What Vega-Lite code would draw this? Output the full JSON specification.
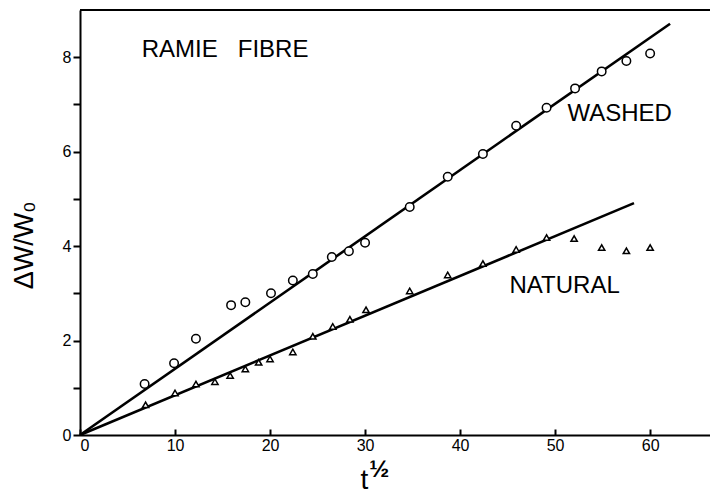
{
  "$schema": "https://vega.github.io/schema/vega-lite/v6.json",
  "width": 630,
  "height": 425,
  "autosize": "none",
  "padding": {"left": 80, "top": 10, "right": 0, "bottom": 58},
  "background": "white",
  "config": {
    "view": {"stroke": null},
    "font": "Liberation Sans",
    "axis": {"grid": false, "domainColor": "black", "domainWidth": 2, "tickColor": "black", "tickWidth": 2, "labelColor": "black", "titleColor": "black", "labelFont": "Liberation Sans", "titleFont": "Liberation Sans"}
  },
  "datasets": {
    "obs": [
      {"series": "washed", "t": 6.8, "dw": 1.08},
      {"series": "washed", "t": 9.9, "dw": 1.52},
      {"series": "washed", "t": 12.2, "dw": 2.04},
      {"series": "washed", "t": 15.9, "dw": 2.75},
      {"series": "washed", "t": 17.4, "dw": 2.81},
      {"series": "washed", "t": 20.1, "dw": 3.0},
      {"series": "washed", "t": 22.4, "dw": 3.27},
      {"series": "washed", "t": 24.5, "dw": 3.41},
      {"series": "washed", "t": 26.5, "dw": 3.77},
      {"series": "washed", "t": 28.3, "dw": 3.89},
      {"series": "washed", "t": 30.0, "dw": 4.07},
      {"series": "washed", "t": 34.7, "dw": 4.83},
      {"series": "washed", "t": 38.7, "dw": 5.47},
      {"series": "washed", "t": 42.4, "dw": 5.95},
      {"series": "washed", "t": 45.9, "dw": 6.55},
      {"series": "washed", "t": 49.1, "dw": 6.93},
      {"series": "washed", "t": 52.1, "dw": 7.34},
      {"series": "washed", "t": 54.9, "dw": 7.7},
      {"series": "washed", "t": 57.5, "dw": 7.92},
      {"series": "washed", "t": 60.0, "dw": 8.08},
      {"series": "natural", "t": 6.9, "dw": 0.64},
      {"series": "natural", "t": 10.0, "dw": 0.89},
      {"series": "natural", "t": 12.2, "dw": 1.08},
      {"series": "natural", "t": 14.2, "dw": 1.13},
      {"series": "natural", "t": 15.8, "dw": 1.26},
      {"series": "natural", "t": 17.4, "dw": 1.4},
      {"series": "natural", "t": 18.8, "dw": 1.54},
      {"series": "natural", "t": 20.0, "dw": 1.61},
      {"series": "natural", "t": 22.4, "dw": 1.76},
      {"series": "natural", "t": 24.5, "dw": 2.09},
      {"series": "natural", "t": 26.6, "dw": 2.3},
      {"series": "natural", "t": 28.4, "dw": 2.45},
      {"series": "natural", "t": 30.1, "dw": 2.65},
      {"series": "natural", "t": 34.7, "dw": 3.05},
      {"series": "natural", "t": 38.7, "dw": 3.39},
      {"series": "natural", "t": 42.4, "dw": 3.63},
      {"series": "natural", "t": 45.9, "dw": 3.93},
      {"series": "natural", "t": 49.1, "dw": 4.18},
      {"series": "natural", "t": 52.0, "dw": 4.16},
      {"series": "natural", "t": 54.9, "dw": 3.97},
      {"series": "natural", "t": 57.5, "dw": 3.9},
      {"series": "natural", "t": 60.0, "dw": 3.97}
    ],
    "fits": [
      {"series": "washed", "t": 0, "dw": 0},
      {"series": "washed", "t": 62.1, "dw": 8.71},
      {"series": "natural", "t": 0, "dw": 0},
      {"series": "natural", "t": 58.3, "dw": 4.91}
    ],
    "one": [{}]
  },
  "layer": [
    {
      "data": {"name": "one"},
      "mark": {"type": "rule", "color": "black", "strokeWidth": 2},
      "encoding": {"y": {"datum": 9, "type": "quantitative"}}
    },
    {
      "data": {"name": "fits"},
      "mark": {"type": "line", "color": "black", "strokeWidth": 2.6},
      "encoding": {
        "x": {
          "field": "t", "type": "quantitative",
          "scale": {"domain": [0, 66.3], "nice": false, "zero": false},
          "axis": {
            "values": [0, 10, 20, 30, 40, 50, 60],
            "tickSize": -6,
            "labelPadding": 8,
            "labelFontSize": 16,
            "title": "t",
            "titleFontSize": 28,
            "titleFontWeight": "normal",
            "titleX": 284,
            "titleY": 53,
            "titleBaseline": "alphabetic",
            "titleAnchor": null
          }
        },
        "y": {
          "field": "dw", "type": "quantitative",
          "scale": {"domain": [0, 9], "nice": false},
          "axis": {
            "values": [0, 1, 2, 3, 4, 5, 6, 7, 8],
            "labelExpr": "datum.value % 2 == 0 ? datum.label : ''",
            "tickSize": 7,
            "labelPadding": 2,
            "labelFontSize": 16,
            "title": "ΔW/W₀",
            "titleFontSize": 27,
            "titleFontWeight": "normal",
            "titleAngle": -90,
            "titleX": -48,
            "titleY": 235,
            "titleBaseline": "alphabetic",
            "titleAlign": "center"
          }
        },
        "detail": {"field": "series"}
      }
    },
    {
      "data": {"name": "obs"},
      "mark": {"type": "point", "filled": false, "fill": "white", "fillOpacity": 1, "stroke": "black", "strokeWidth": 1.5, "opacity": 1},
      "encoding": {
        "x": {"field": "t", "type": "quantitative"},
        "y": {"field": "dw", "type": "quantitative"},
        "shape": {"field": "series", "type": "nominal", "scale": {"domain": ["washed", "natural"], "range": ["circle", "triangle-up"]}, "legend": null},
        "size": {"field": "series", "type": "nominal", "scale": {"domain": ["washed", "natural"], "range": [72, 40]}, "legend": null}
      }
    },
    {
      "data": {"name": "one"},
      "mark": {"type": "text", "text": "RAMIE\u00a0\u00a0\u00a0FIBRE", "fontSize": 24, "align": "left", "baseline": "alphabetic", "color": "black"},
      "encoding": {"x": {"datum": 6.5, "type": "quantitative"}, "y": {"datum": 8.0, "type": "quantitative"}}
    },
    {
      "data": {"name": "one"},
      "mark": {"type": "text", "text": "WASHED", "fontSize": 24, "align": "left", "baseline": "alphabetic", "color": "black"},
      "encoding": {"x": {"datum": 51.3, "type": "quantitative"}, "y": {"datum": 6.66, "type": "quantitative"}}
    },
    {
      "data": {"name": "one"},
      "mark": {"type": "text", "text": "NATURAL", "fontSize": 24, "align": "left", "baseline": "alphabetic", "color": "black"},
      "encoding": {"x": {"datum": 45.2, "type": "quantitative"}, "y": {"datum": 3.0, "type": "quantitative"}}
    },
    {
      "data": {"name": "one"},
      "mark": {"type": "text", "text": "½", "fontSize": 24, "fontWeight": "bold", "align": "center", "baseline": "middle", "color": "black", "clip": false},
      "encoding": {"x": {"datum": 31.5, "type": "quantitative"}, "y": {"datum": -0.74, "type": "quantitative"}}
    }
  ]
}
